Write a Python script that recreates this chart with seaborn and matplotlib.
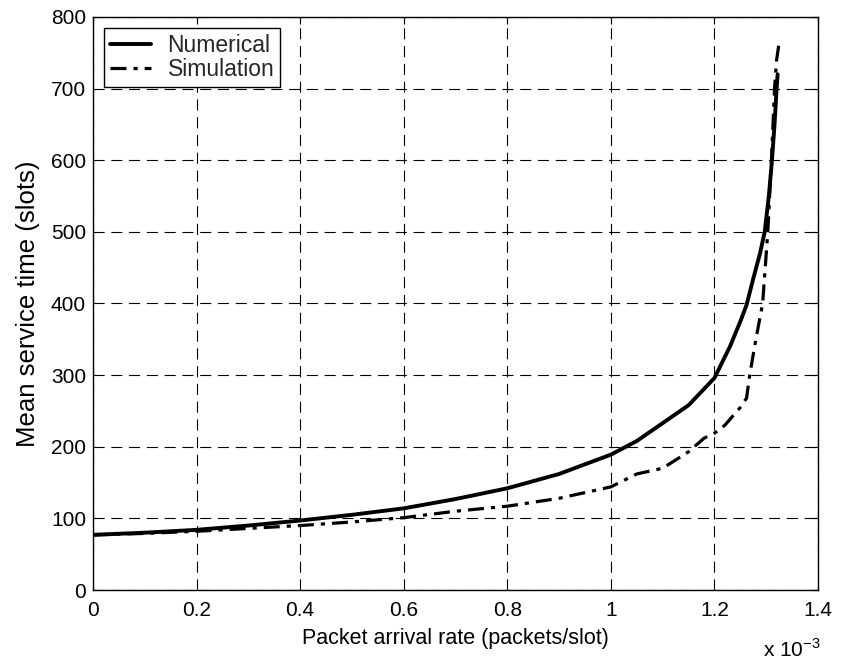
import matplotlib
matplotlib.use("Agg")
import matplotlib.pyplot as plt
import seaborn as sns
import pandas as pd

# x values in units of 1e-3 packets/slot
num_x = [0, 0.1, 0.2, 0.3, 0.4, 0.5, 0.6, 0.7, 0.8, 0.9, 1.0, 1.05, 1.1, 1.15,
         1.2, 1.23, 1.25, 1.262, 1.275, 1.288, 1.297, 1.305, 1.311, 1.316, 1.32, 1.322]
num_y = [77, 80, 84, 90, 97, 105, 114, 127, 142, 162, 189, 208, 233, 258,
         296, 340, 375, 398, 435, 470, 500, 550, 600, 650, 700, 720]

sim_x = [0, 0.1, 0.2, 0.3, 0.4, 0.5, 0.6, 0.7, 0.8, 0.9, 1.0, 1.05, 1.1, 1.15,
         1.18, 1.2, 1.22, 1.25, 1.262, 1.268, 1.28, 1.293, 1.303, 1.31, 1.316, 1.32, 1.325]
sim_y = [77, 79, 82, 86, 90, 95, 101, 110, 117, 128, 144, 162, 170, 193,
         212, 219, 230, 255, 268, 300, 350, 400, 500, 600, 700, 740, 765]

x_ticks = [0, 0.2, 0.4, 0.6, 0.8, 1.0, 1.2, 1.4]
x_ticklabels = ["0", "0.2", "0.4", "0.6", "0.8", "1", "1.2", "1.4"]
y_ticks = [0, 100, 200, 300, 400, 500, 600, 700, 800]

sns.set_theme(style="white")
plt.rcParams['font.family'] = ['Liberation Sans', 'DejaVu Sans']
plt.rcParams['mathtext.fontset'] = 'custom'
plt.rcParams['mathtext.rm'] = 'Liberation Sans'

fig = plt.figure(figsize=(8.41, 6.63), dpi=100)
ax = fig.add_axes([0.1106, 0.1101, 0.8621, 0.8643])

df_num = pd.DataFrame({"x": num_x, "y": num_y})
df_sim = pd.DataFrame({"x": sim_x, "y": sim_y})

sns.lineplot(data=df_num, x="x", y="y", ax=ax, color="black", linewidth=2.8,
             label="Numerical", estimator=None, sort=False)
sns.lineplot(data=df_sim, x="x", y="y", ax=ax, color="black", linewidth=2.3,
             linestyle=(0, (5, 2.2, 1.3, 2.2)), label="Simulation",
             estimator=None, sort=False)

ax.set_xlim(0, 1.4)
ax.set_ylim(0, 800)
ax.set_xticks(x_ticks)
ax.set_xticklabels(x_ticklabels)
ax.set_yticks(y_ticks)
ax.tick_params(direction="in", length=5, width=0.8, colors="black",
               labelsize=15, top=True, right=True)
ax.tick_params(axis="x", pad=8)
ax.tick_params(axis="y", pad=5)
ax.grid(True, color="black", linestyle=(0, (10, 6)), linewidth=0.8)
for s in ax.spines.values():
    s.set_color("black")
    s.set_linewidth(1.0)

ax.set_xlabel("Packet arrival rate (packets/slot)", fontsize=15.5, color="black", labelpad=6)
ax.set_ylabel("Mean service time (slots)", fontsize=18.5, color="black", labelpad=8)

ax.text(1.003, -0.117, r"x 10$^{-3}$", transform=ax.transAxes, ha="right", va="baseline",
        fontsize=15, color="black")

leg = ax.legend(loc="upper left", fontsize=16.5, frameon=True, fancybox=False,
                edgecolor="black", framealpha=1, borderpad=0.25, handlelength=1.8,
                handletextpad=0.7, labelspacing=0.05, borderaxespad=0.5)
leg.get_frame().set_linewidth(1.0)

fig.savefig("out.png", dpi=100, facecolor="white")
